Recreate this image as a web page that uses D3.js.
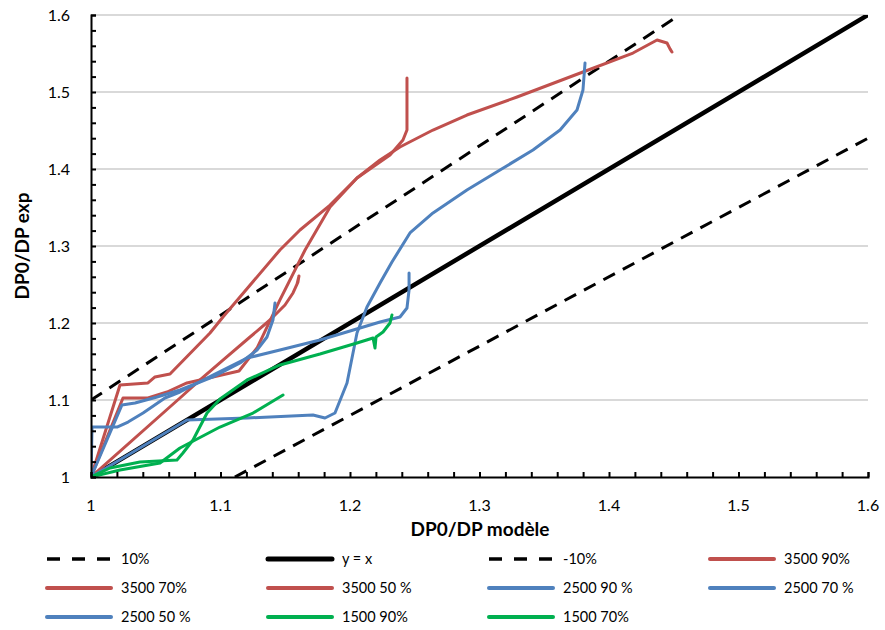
<!DOCTYPE html>
<html><head><meta charset="utf-8">
<script src="https://cdn.jsdelivr.net/npm/d3@7"></script>
<style>
body{margin:0;background:#fff;}
text{font-family:Lato,"Open Sans",sans-serif;}
</style></head>
<body><svg id="c" width="885" height="630"></svg>
<script>
// ---- data ----
const xTicks = [1, 1.1, 1.2, 1.3, 1.4, 1.5, 1.6];
const yTicks = [1, 1.1, 1.2, 1.3, 1.4, 1.5, 1.6];
const tickLabels = ["1", "1.1", "1.2", "1.3", "1.4", "1.5", "1.6"];

const plus10 = [[1, 1.1], [1.4545, 1.6]];
const identity = [[1, 1], [1.6, 1.6]];
const minus10 = [[1.1111, 1], [1.6, 1.44]];

const s3500_90 = [[1,1],[1.0247,1.1026],[1.0440,1.1026],[1.0587,1.1104],[1.0741,1.1221],[1.1143,1.1377],[1.1282,1.1675],[1.1459,1.2299],[1.1653,1.2948],[1.1846,1.3506],[1.2054,1.3883],[1.2232,1.4117],[1.2386,1.4286],[1.2641,1.4506],[1.2903,1.4701],[1.3290,1.4935],[1.3799,1.5260],[1.4185,1.5506],[1.4371,1.5675],[1.4448,1.5636],[1.4471,1.5560],[1.4486,1.5519]];
const s3500_70 = [[1,1],[1.0224,1.1195],[1.0440,1.1221],[1.0494,1.1299],[1.0610,1.1338],[1.0919,1.1870],[1.1019,1.2078],[1.1459,1.2948],[1.1614,1.3208],[1.1846,1.3532],[1.2054,1.3883],[1.2309,1.4182],[1.2409,1.4377],[1.2440,1.4506],[1.2440,1.5182]];
const s3500_50 = [[1,1],[1.0687,1.1026],[1.0842,1.1260],[1.1019,1.1519],[1.1228,1.1818],[1.1382,1.2039],[1.1498,1.2234],[1.1560,1.2390],[1.1598,1.2532],[1.1606,1.2610],[1.1591,1.2506]];
const s2500_90 = [[1,1],[1.0741,1.0740],[1.1205,1.0766],[1.1714,1.0805],[1.1807,1.0766],[1.1884,1.0831],[1.1977,1.1221],[1.2054,1.1870],[1.2131,1.2208],[1.2232,1.2519],[1.2324,1.2792],[1.2463,1.3169],[1.2641,1.3429],[1.2903,1.3727],[1.3158,1.3987],[1.3413,1.4247],[1.3622,1.4506],[1.3753,1.4766],[1.3799,1.5026],[1.3815,1.5377]];
const s2500_70 = [[1,1],[1.0008,1.0649],[1.0201,1.0649],[1.0286,1.0714],[1.0402,1.0831],[1.0571,1.1026],[1.0687,1.1104],[1.0942,1.1325],[1.1205,1.1545],[1.1459,1.1649],[1.1768,1.1779],[1.2232,1.2013],[1.2386,1.2078],[1.2440,1.2195],[1.2456,1.2429],[1.2456,1.2649]];
const s2500_50 = [[1,1],[1.0239,1.0935],[1.0340,1.0961],[1.0510,1.1039],[1.0687,1.1130],[1.0942,1.1299],[1.1151,1.1481],[1.1282,1.1649],[1.1359,1.1818],[1.1405,1.2039],[1.1421,1.2260]];
const s1500_90 = [[1,1],[1.0147,1.0117],[1.0378,1.0195],[1.0664,1.0221],[1.0710,1.0312],[1.0788,1.0481],[1.0896,1.0831],[1.0996,1.1013],[1.1205,1.1260],[1.1459,1.1455],[1.1768,1.1597],[1.2054,1.1740],[1.2178,1.1805],[1.2193,1.1675],[1.2201,1.1818],[1.2255,1.1883],[1.2309,1.2000],[1.2324,1.2104]];
const s1500_70 = [[1,1],[1.0224,1.0091],[1.0533,1.0182],[1.0687,1.0377],[1.0996,1.0649],[1.1251,1.0831],[1.1483,1.1065]];

const legendNames = ["10%", "y = x", "-10%", "3500 90%", "3500 70%", "3500 50 %", "2500 90 %", "2500 70 %", "2500 50 %", "1500 90%", "1500 70%"];

// ---- chart ----
const RED = "#C0504D", BLUE = "#4F81BD", GREEN = "#00B050";
const series = [
  {d: plus10, c: "#000", w: 3, dash: "13,9"},
  {d: identity, c: "#000", w: 4.5},
  {d: minus10, c: "#000", w: 3, dash: "13,9"},
  {d: s3500_90, c: RED, w: 3},
  {d: s3500_70, c: RED, w: 3},
  {d: s3500_50, c: RED, w: 3},
  {d: s2500_90, c: BLUE, w: 3},
  {d: s2500_70, c: BLUE, w: 3},
  {d: s2500_50, c: BLUE, w: 3},
  {d: s1500_90, c: GREEN, w: 3},
  {d: s1500_70, c: GREEN, w: 3}
];

const svg = d3.select("#c");
const x = d3.scaleLinear().domain([1, 1.6]).range([91, 868]);
const y = d3.scaleLinear().domain([1, 1.6]).range([477, 15]);

// gridlines
svg.append("g").selectAll("line").data(yTicks.slice(1)).join("line")
  .attr("x1", 91).attr("x2", 868).attr("y1", d => y(d)).attr("y2", d => y(d))
  .attr("stroke", "#D9D9D9").attr("stroke-width", 2);

svg.append("clipPath").attr("id", "pc").append("rect")
  .attr("x", 91).attr("y", 15).attr("width", 777).attr("height", 462);

const line = d3.line().x(d => x(d[0])).y(d => y(d[1])).curve(d3.curveCatmullRom.alpha(0.5));
const straight = d3.line().x(d => x(d[0])).y(d => y(d[1]));
const g = svg.append("g").attr("clip-path", "url(#pc)");
series.forEach(s => {
  g.append("path").attr("d", (s.c === "#000" ? straight : straight)(s.d)).attr("fill", "none")
    .attr("stroke", s.c).attr("stroke-width", s.w)
    .attr("stroke-linejoin", "round").attr("stroke-linecap", s.dash ? "butt" : "round")
    .attr("stroke-dasharray", s.dash || null);
});

// axes
const minor = d3.range(0, 31).map(i => 1 + i * 0.02);
const xAxis = d3.axisBottom(x).tickValues(minor).tickSize(-5).tickFormat("");
const yAxis = d3.axisLeft(y).tickValues(minor).tickSize(-5).tickFormat("");
svg.append("g").attr("transform", "translate(0,477)").call(xAxis)
  .call(a => a.selectAll("path,line").attr("stroke", "#000").attr("stroke-width", 2));
svg.append("g").attr("transform", "translate(91,0)").call(yAxis)
  .call(a => a.selectAll("path,line").attr("stroke", "#000").attr("stroke-width", 2));

// tick labels
svg.append("g").selectAll("text").data(xTicks).join("text")
  .attr("x", d => x(d)).attr("y", 511).attr("text-anchor", "middle")
  .attr("font-size", 16).attr("fill", "#000").text((d, i) => tickLabels[i]);
svg.append("g").selectAll("text").data(yTicks).join("text")
  .attr("x", 70).attr("y", d => y(d) + 6).attr("text-anchor", "end")
  .attr("font-size", 16).attr("fill", "#000").text((d, i) => tickLabels[i]);

// axis titles
svg.append("text").attr("x", 480).attr("y", 536).attr("text-anchor", "middle")
  .attr("font-size", 19).attr("font-weight", "bold").text("DP0/DP modèle");
svg.append("text").attr("transform", "translate(29,246) rotate(-90)").attr("text-anchor", "middle")
  .attr("font-size", 19).attr("font-weight", "bold").text("DP0/DP exp");

// legend
const colX = [47, 268, 489, 710];
const rowY = [559, 588, 617];
series.forEach((s, i) => {
  const cx = colX[i % 4], cy = rowY[Math.floor(i / 4)];
  svg.append("line").attr("x1", cx).attr("x2", cx + 64).attr("y1", cy).attr("y2", cy)
    .attr("stroke", s.c).attr("stroke-width", s.dash ? 3.5 : (s.c === "#000" ? 5 : 4))
    .attr("stroke-dasharray", s.dash ? "13,12" : null)
    .attr("stroke-linecap", s.dash ? "butt" : "round");
  svg.append("text").attr("x", cx + 74).attr("y", cy + 5).attr("font-size", 14.5)
    .attr("fill", "#000").text(legendNames[i]);
});
</script></body></html>
